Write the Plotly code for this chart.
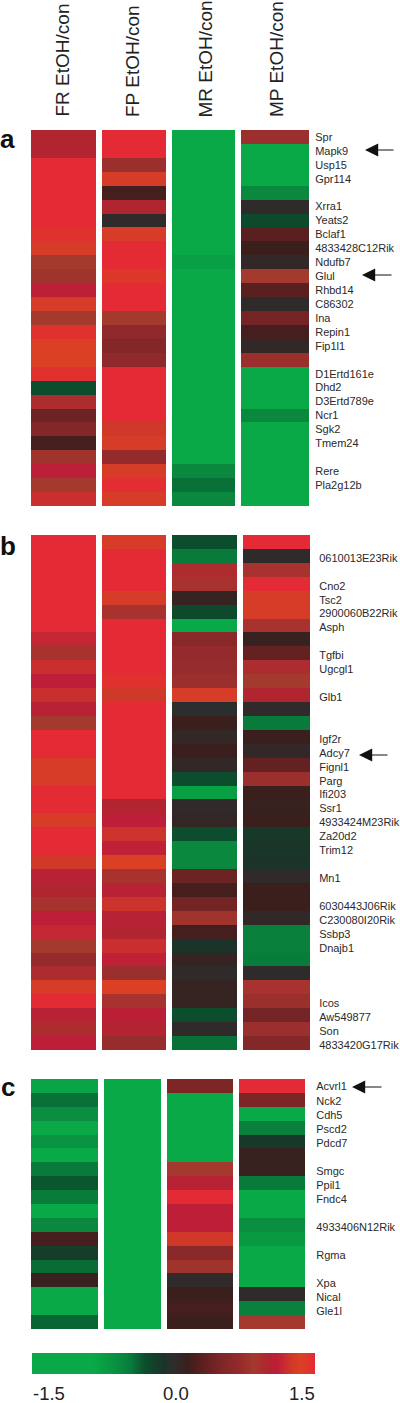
import plotly.graph_objects as go

W, H = 400, 1403

conditions = ["FR EtOH/con", "FP EtOH/con", "MR EtOH/con", "MP EtOH/con"]

genes_a = ["Spr", "Mapk9", "Usp15", "Gpr114", "", "Xrra1", "Yeats2", "Bclaf1", "4833428C12Rik", "Ndufb7",
           "Glul", "Rhbd14", "C86302", "Ina", "Repin1", "Fip1l1", "", "D1Ertd161e", "Dhd2", "D3Ertd789e",
           "Ncr1", "Sgk2", "Tmem24", "", "Rere", "Pla2g12b", ""]
a_fr = [1.0, 1.0, 1.5, 1.5, 1.5, 1.5, 1.5, 1.45, 1.3, .85, .8, 1.1, 1.3, .85, 1.45, 1.35, 1.35, 1.45,
        -.3, .95, .4, .55, .2, .8, 1.1, .85, 1.2]
a_fp = [1.5, 1.5, .75, 1.3, .2, 1.0, .02, 1.3, 1.5, 1.5, 1.42, 1.5, 1.5, .85, .65, .55, .65, 1.5, 1.5,
        1.5, 1.5, 1.25, 1.3, .7, 1.3, 1.48, 1.3]
a_mr = [-1.5, -1.5, -1.5, -1.5, -1.5, -1.5, -1.5, -1.5, -1.5, -.75, -1.5, -1.5, -1.5, -1.5, -1.5, -1.5,
        -1.5, -1.5, -1.5, -1.5, -1.5, -1.5, -1.5, -1.5, -.55, -.42, -.55]
a_mp = [.75, -1.5, -1.5, -1.5, -.55, .02, -.28, .3, .15, .05, .85, .3, .02, .45, .2, .05, .75, -1.5, -1.5,
        -1.5, -.55, -1.5, -1.5, -1.5, -1.5, -1.5, -1.5]

genes_b = ["", "0610013E23Rik", "", "Cno2", "Tsc2", "2900060B22Rik", "Asph", "", "Tgfbi", "Ugcgl1", "", "Glb1",
           "", "", "Igf2r", "Adcy7", "Fignl1", "Parg", "Ifi203", "Ssr1", "4933424M23Rik", "Za20d2", "Trim12", "",
           "Mn1", "", "6030443J06Rik", "C230080I20Rik", "Ssbp3", "Dnajb1", "", "", "", "Icos", "Aw549877", "Son",
           "4833420G17Rik"]
b_fr = [1.5, 1.5, 1.5, 1.5, 1.5, 1.5, 1.5, 1.15, .9, 1.2, 1.1, 1.2, 1.05, .85, 1.5, 1.5, 1.3, 1.3, 1.5, 1.5,
        1.3, 1.5, 1.5, 1.25, 1.05, 1.0, .9, 1.1, 1.15, .85, .7, .95, 1.3, 1.5, 1.05, .95, 1.1]
b_fp = [1.3, 1.5, 1.5, 1.5, 1.3, .9, 1.5, 1.5, 1.5, 1.5, 1.45, 1.25, 1.5, 1.5, 1.5, 1.5, 1.5, 1.5, 1.5, 1.02,
        1.1, 1.22, 1.12, 1.35, .9, 1.05, 1.22, 1.05, 1.02, 1.2, 1.12, .75, 1.35, .9, 1.08, 1.03, .72]
b_mr = [-.3, -.45, .95, .9, .1, -.27, -1.5, .6, .7, .72, .75, 1.3, -.02, .15, .05, .15, .05, -.3, -.75, .03, .08,
        -.3, -.55, -.55, .4, .2, .45, .8, .2, -.1, .1, .02, .1, .1, -.3, .03, -.42]
b_mp = [1.5, .02, .9, 1.5, 1.3, 1.3, .9, .12, .35, .95, .85, 1.0, .03, -.45, .15, .05, .35, .75, .15, .12, .15,
        -.15, -.12, -.1, .03, .15, .15, .05, -.5, -.5, -.47, .02, .9, .75, .45, .75, .55]

genes_c = ["Acvrl1", "Nck2", "Cdh5", "Pscd2", "Pdcd7", "", "Smgc", "Ppil1", "Fndc4", "", "4933406N12Rik", "",
           "Rgma", "", "Xpa", "Nical", "Gle1l", ""]
c_fr = [-.8, -.42, -.6, -.85, -.65, -1.0, -.45, -.33, -.47, -.95, -.55, .2, -.18, -.4, .12, -1.5, -1.5, -.38]
c_fp = [-1.4] * 18
c_mr = [.5, -1.4, -1.0, -1.2, -1.0, -1.2, .85, 1.05, 1.5, 1.1, 1.1, 1.25, .6, .8, .03, .15, .2, .15]
c_mp = [1.5, .5, -1.5, -.5, -.15, .12, .12, -.45, -1.4, -1.0, -.6, -.7, -1.4, -1.4, -1.4, .02, -.5, .85]

color_stops = [(-1.5, "#08A946"), (-0.85, "#08A946"), (-0.6, "#0A8F40"), (-0.45, "#087A3A"), (-0.3, "#0B4D2C"),
               (-0.1, "#1C3329"), (0.0, "#2D2D2D"), (0.15, "#3A1F1C"), (0.3, "#5A1F1F"), (0.5, "#7D2626"),
               (0.7, "#952A2C"), (0.85, "#A4392E"), (1.0, "#B0252F"), (1.1, "#BD1E38"), (1.25, "#D0382A"),
               (1.35, "#DC4024"), (1.5, "#E32A35")]
colorscale = [[(v + 1.5) / 3.0, c] for v, c in color_stops]

panels = [
    dict(letter="a", genes=genes_a, cols=[a_fr, a_fp, a_mr, a_mp], top=130, bottom=506, letter_y=139,
         xs=[(31, 96), (102, 166), (172, 235), (241, 309)], tick=3, shift=(0.0, 0.0)),
    dict(letter="b", genes=genes_b, cols=[b_fr, b_fp, b_mr, b_mp], top=535, bottom=1050, letter_y=546,
         xs=[(31, 96), (102, 166), (172, 237), (243, 310)], tick=6, shift=(0.15, 0.0)),
    dict(letter="c", genes=genes_c, cols=[c_fr, c_fp, c_mr, c_mp], top=1079, bottom=1329, letter_y=1087,
         xs=[(31, 98), (104, 161), (167, 233), (239, 305)], tick=8, shift=(0.05, 0.01)),
]

fig = go.Figure()
axis_i = 0
base = dict(showgrid=False, zeroline=False, showline=False)
for p in panels:
    n = len(p["genes"])
    for j, (vals, (x0, x1)) in enumerate(zip(p["cols"], p["xs"])):
        axis_i += 1
        suffix = "" if axis_i == 1 else str(axis_i)
        fig.add_trace(go.Heatmap(z=[[v] for v in vals], x=[conditions[j]], y=list(range(n)),
                                 coloraxis="coloraxis", xaxis="x" + suffix, yaxis="y" + suffix,
                                 hoverongaps=False))
        fig.layout["xaxis" + suffix] = dict(base, domain=[x0 / W, x1 / W], anchor="y" + suffix,
                                            showticklabels=False, ticks="")
        yax = dict(base, domain=[1 - p["bottom"] / H, 1 - p["top"] / H], anchor="x" + suffix,
                   range=[n - 0.5, -0.5], showticklabels=False, ticks="")
        if j == 3:
            idx = [i for i, g in enumerate(p["genes"]) if g]
            s0, s1 = p["shift"]
            yax.update(side="right", showticklabels=True, ticks="outside", ticklen=p["tick"],
                       tickcolor="rgba(0,0,0,0)", tickmode="array", tickvals=[i + s0 + s1 * i for i in idx],
                       ticktext=[p["genes"][i] for i in idx],
                       tickfont=dict(family="Liberation Sans", size=11, color="#2a2a2a"))
        fig.layout["yaxis" + suffix] = yax

fig.update_layout(
    width=W, height=H, margin=dict(l=0, r=0, t=0, b=0, autoexpand=False),
    paper_bgcolor="white", plot_bgcolor="white", showlegend=False,
    coloraxis=dict(cmin=-1.5, cmax=1.5, colorscale=colorscale,
                   colorbar=dict(orientation="h", lenmode="pixels", len=283, thicknessmode="pixels", thickness=21,
                                 x=32 / W, xanchor="left", y=1 - 1374 / H, yanchor="bottom",
                                 outlinewidth=0, ticks="", showticklabels=False, xpad=0, ypad=0)),
)

def px_note(text, x, y, size, **kw):
    fig.add_annotation(text=text, xref="paper", yref="paper", x=x / W, y=1 - y / H, showarrow=False,
                       font=dict(family="Liberation Sans", size=size, color=kw.pop("color", "#222222")), **kw)

for name, cx in zip(conditions, [62, 132, 205, 276]):
    px_note(name, cx, 119, 19, textangle=-90, xanchor="center", yanchor="bottom")
for p in panels:
    px_note("<b>%s</b>" % p["letter"], 7.5, p["letter_y"], 26, color="#111111", xanchor="center", yanchor="middle")
for label, cx in [("-1.5", 48.5), ("0.0", 176), ("1.5", 302)]:
    px_note(label, cx, 1393, 18.5, xanchor="center", yanchor="middle")

for x_tip, x_tail, y in [(365, 395, 150), (362, 393, 275), (359, 389, 755), (352, 383, 1087)]:
    fig.add_annotation(x=x_tip / W, y=1 - y / H, xref="paper", yref="paper", text="", showarrow=True,
                       ax=x_tail - x_tip, ay=0, axref="pixel", ayref="pixel", arrowhead=2, arrowsize=2.4,
                       arrowwidth=1.1, arrowcolor="#111111")

fig.write_html("out.html", config={"displayModeBar": False, "responsive": False},
               post_script="document.body.style.margin='0';document.documentElement.style.overflow='hidden';")
